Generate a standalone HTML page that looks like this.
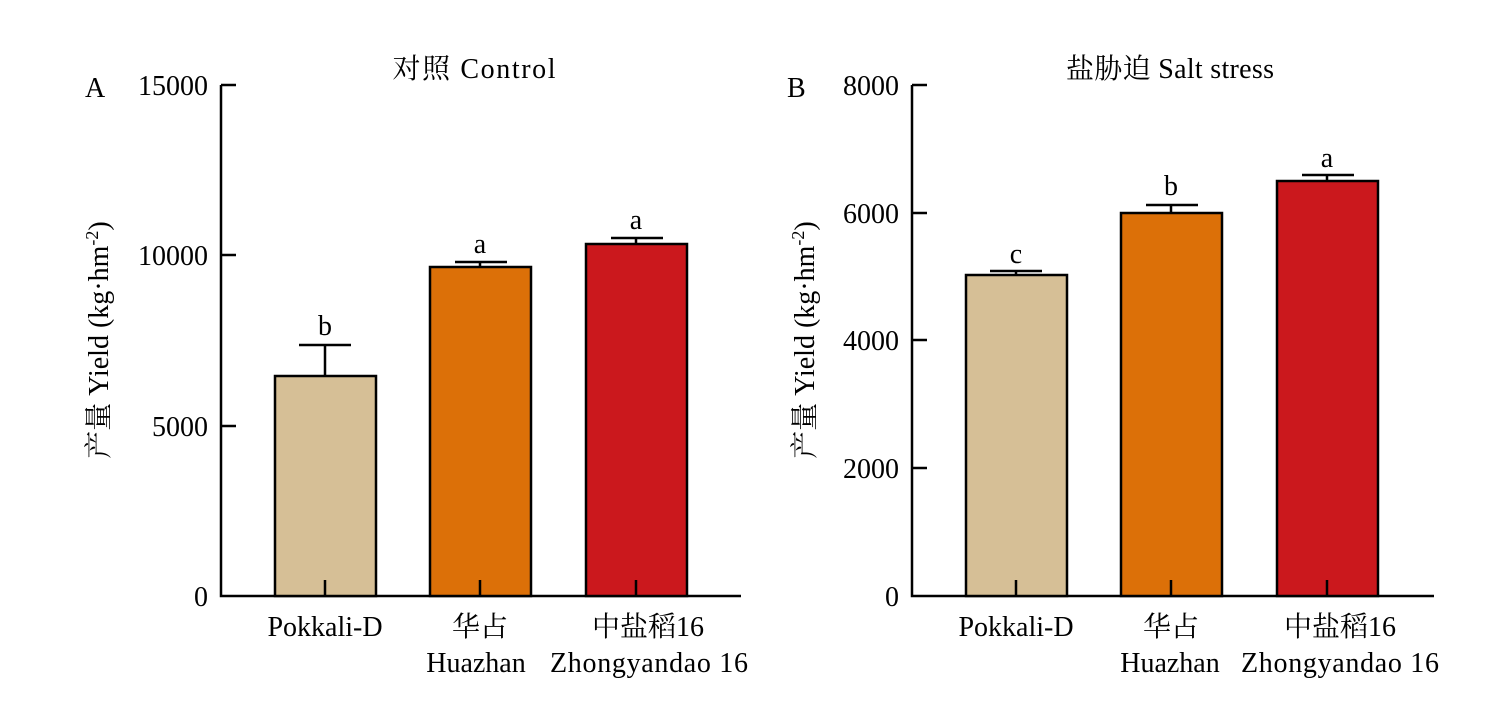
<!DOCTYPE html><html><head><meta charset="utf-8"><style>body{margin:0;background:#fff}svg{display:block}text{font-family:"Liberation Serif","Noto Serif CJK SC",serif;font-size:28px;fill:#000}</style></head><body>
<svg width="1509" height="708" viewBox="0 0 1509 708">
<g stroke="#000" stroke-width="2.5" fill="none">
<path d="M221,85V596H741M221,85h15M221,255h15M221,426h15"/>
<rect x="275" y="376" width="101" height="220" fill="#d6bf96"/>
<rect x="430" y="267" width="101" height="329" fill="#dc7008"/>
<rect x="586" y="244" width="101" height="352" fill="#cb181d"/>
<path d="M325,376V345M299,345h52M480,267V262M455,262h52M636,244V238M611,238h52M325,596V580M480,596V580M636,596V580"/>
<path d="M912,85V596H1434M912,85h15M912,213h15M912,340h15M912,468h15"/>
<rect x="966" y="275" width="101" height="321" fill="#d6bf96"/>
<rect x="1121" y="213" width="101" height="383" fill="#dc7008"/>
<rect x="1277" y="181" width="101" height="415" fill="#cb181d"/>
<path d="M1016,275V271M990,271h52M1171,213V205M1146,205h52M1327,181V175M1302,175h52M1016,596V580M1171,596V580M1327,596V580"/>
</g>
<text x="474" y="78" text-anchor="middle" textLength="163">对照 Control</text>
<text x="1170" y="78" text-anchor="middle" textLength="208">盐胁迫 Salt stress</text>
<text x="85" y="97">A</text><text x="787" y="97">B</text>
<g text-anchor="end"><text x="208" y="95">15000</text><text x="208" y="265">10000</text><text x="208" y="436">5000</text><text x="208" y="606">0</text>
<text x="899" y="95">8000</text><text x="899" y="223">6000</text><text x="899" y="350">4000</text><text x="899" y="478">2000</text><text x="899" y="606">0</text></g>
<g text-anchor="middle"><text x="325" y="335">b</text><text x="480" y="253">a</text><text x="636" y="229">a</text>
<text x="1016" y="263">c</text><text x="1171" y="195">b</text><text x="1327" y="167">a</text>
<text x="325" y="636">Pokkali-D</text><text x="480" y="636">华占</text><text x="476" y="672">Huazhan</text><text x="648" y="636">中盐稻16</text><text x="649" y="672" textLength="198">Zhongyandao 16</text>
<text x="1016" y="636">Pokkali-D</text><text x="1171" y="636">华占</text><text x="1170" y="672">Huazhan</text><text x="1340" y="636">中盐稻16</text><text x="1340" y="672" textLength="198">Zhongyandao 16</text>
<text transform="translate(108,340) rotate(-90)">产量 Yield (kg·hm<tspan dy="-10" font-size="18">-2</tspan><tspan dy="10">)</tspan></text>
<text transform="translate(814,340) rotate(-90)">产量 Yield (kg·hm<tspan dy="-10" font-size="18">-2</tspan><tspan dy="10">)</tspan></text></g>
</svg></body></html>
